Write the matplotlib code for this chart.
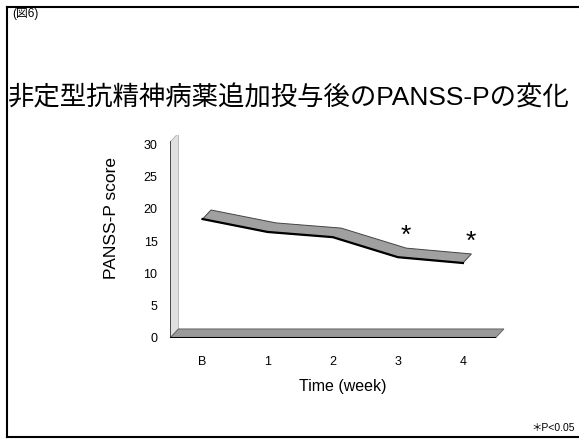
import numpy as np
import matplotlib as mpl
mpl.use('agg')
import matplotlib.pyplot as plt
from matplotlib.patches import Polygon

plt.rcParams['font.family'] = ['Liberation Sans', 'Noto Sans CJK JP', 'DejaVu Sans']

weeks = ['B', '1', '2', '3', '4']
scores = [18.4, 16.4, 15.6, 12.5, 11.6]
significant = [False, False, False, True, True]
yticks = [0, 5, 10, 15, 20, 25, 30]

# fake 3d depth offset (data units)
dx, dy = 0.13, 1.4
xmin, xmax = -0.5, 4.5

fig = plt.figure(figsize=(5.79, 4.41), dpi=100)
ax = fig.add_axes([170/579, 1-338/441, 345/579, 203/441])
ax.set_xlim(xmin, xmax + 0.3)
ax.set_ylim(0, 31.4)
for s in ax.spines.values():
    s.set_visible(False)

x = np.arange(len(weeks))
y = np.array(scores)

# wall
wall = Polygon([(xmin, 0), (xmin, 30.3), (xmin+dx, 30.3+dy), (xmin+dx, dy)],
               closed=True, facecolor='#e0e0e0', edgecolor='#b0b0b0', lw=0.6)
ax.add_patch(wall)
ax.plot([xmin, xmin], [0, 30.3], color='#333333', lw=1.2)

# floor
floor = Polygon([(xmin, 0), (xmax, 0), (xmax+dx, dy), (xmin+dx, dy)],
                closed=True, facecolor='#9a9a9a', edgecolor='#555555', lw=0.6)
ax.add_patch(floor)
ax.plot([xmin, xmax], [0, 0], color='black', lw=1.5)

# ribbon
pts = list(zip(x, y)) + list(zip(x[::-1]+dx, y[::-1]+dy))
ribbon = Polygon(pts, closed=True, facecolor='#a0a0a0', edgecolor='#444444', lw=0.7)
ax.add_patch(ribbon)
ax.plot(x, y, color='black', lw=1.6)

for xi, yi, sig in zip(x, y, significant):
    if sig:
        ax.text(xi+0.12, yi+3.3, '*', ha='center', va='center', fontsize=19)

ax.set_xticks(x)
ax.set_xticklabels(weeks, fontsize=9)
ax.set_yticks(yticks)
ax.set_yticklabels([str(t) for t in yticks], fontsize=9)
ax.tick_params(axis='x', length=0, pad=13)
ax.tick_params(axis='y', length=0, pad=9)
ax.set_xlabel('Time (week)', fontsize=11.5, labelpad=8)
fig.text(112/579, 1-218/441, 'PANSS-P score', rotation=90, ha='center', va='center', fontsize=12.5)

fig.text(12/579, 1-14/441, '(図6)', ha='left', va='center', fontsize=8.5)
fig.text(8/579, 1-98/441, '非定型抗精神病薬追加投与後のPANSS-Pの変化', ha='left', va='center',
         fontsize=19)
fig.text(575/579, 1-428/441, '＊P<0.05', ha='right', va='center', fontsize=7.5)

# frame
fig.add_artist(plt.Line2D([7/579, 7/579], [1-437/441, 1-7/441], color='black', lw=1.5))
fig.add_artist(plt.Line2D([7/579, 1], [1-7/441, 1-7/441], color='black', lw=1.5))
fig.add_artist(plt.Line2D([7/579, 1], [1-437/441, 1-437/441], color='black', lw=1.5))

fig.savefig('out.png')
